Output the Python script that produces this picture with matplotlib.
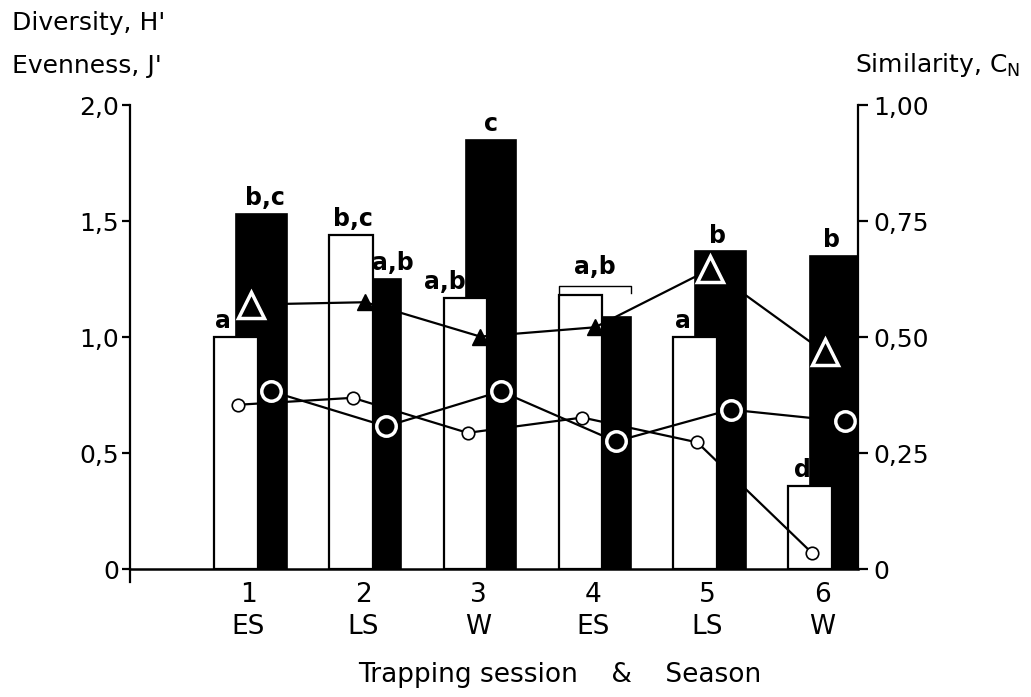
import numpy as np
import matplotlib
matplotlib.use("Agg")
import matplotlib.pyplot as plt

plt.rcParams['font.family'] = ['DejaVu Sans']

# ---- data ----
sessions = [1, 2, 3, 4, 5, 6]
seasons = ["ES", "LS", "W", "ES", "LS", "W"]
diversity_white = [1.00, 1.44, 1.17, 1.18, 1.00, 0.36]      # H', open bars
diversity_black = [1.53, 1.25, 1.85, 1.085, 1.37, 1.35]     # H', solid bars
evenness_white = [0.708, 0.738, 0.587, 0.653, 0.546, 0.069]  # J', small open circles
evenness_black = [0.766, 0.615, 0.766, 0.550, 0.687, 0.636]  # J', large circles
similarity = [0.570, 0.575, 0.501, 0.521, 0.646, 0.467]     # C_N, triangles (right axis)
letters_white = ["a", "b,c", "a,b", "", "a", "d"]
letters_black = ["b,c", "a,b", "c", "", "b", "b"]
letters_joint = ["", "", "", "a,b", "", ""]
left_ticks = [0, 0.5, 1.0, 1.5, 2.0]
left_ticklabels = ["0", "0,5", "1,0", "1,5", "2,0"]
right_ticks = [0, 0.25, 0.50, 0.75, 1.00]
right_ticklabels = ["0", "0,25", "0,50", "0,75", "1,00"]

# ---- styles ----
FS = 18
FS_X = 19
FS_L = 17
W_OFF, W_W = -0.108, 0.38
B_OFF, B_W = 0.113, 0.44
EW_OFF = -0.09
EB_OFF = 0.20
TRI_OFF = 0.02
white_dx = [-0.11, 0.02, -0.18, 0, -0.11, -0.07]
black_dx = [0.03, 0.15, 0.0, 0, -0.03, -0.03]

x = np.array(sessions, dtype=float)

fig = plt.figure(figsize=(10.31, 6.97), dpi=100)
ax = fig.add_axes([0.1261, 0.1836, 0.7061, 0.6657])
ax.set_xlim(-0.03, 6.31)
ax.set_ylim(0, 2.0)

ax.bar(x + B_OFF, diversity_black, width=B_W, color='black', edgecolor='black',
       linewidth=1.2, zorder=2)
ax.bar(x + W_OFF, diversity_white, width=W_W, facecolor='white', edgecolor='black',
       linewidth=1.6, zorder=3)

# evenness lines
ax.plot(x + EW_OFF, evenness_white, '-', color='black', lw=1.6, zorder=4,
        marker='o', ms=9, mfc='white', mec='black', mew=1.2)
ax.plot(x + EB_OFF, evenness_black, '-', color='black', lw=1.6, zorder=4)
ax.plot(x + EB_OFF, evenness_black, 'o', ms=14, mfc='black', mec='white', mew=2.5, zorder=6)

# letters above bars
for i in range(len(x)):
    if letters_white[i]:
        ax.text(x[i] + W_OFF + white_dx[i], diversity_white[i] + 0.037, letters_white[i],
                ha='center', va='baseline', fontsize=FS_L, fontweight='bold', zorder=7)
    if letters_black[i]:
        ax.text(x[i] + B_OFF + black_dx[i], diversity_black[i] + 0.037, letters_black[i],
                ha='center', va='baseline', fontsize=FS_L, fontweight='bold', zorder=7)
    if letters_joint[i]:
        top = max(diversity_white[i], diversity_black[i])
        x0 = x[i] + W_OFF - W_W / 2
        x1 = x[i] + B_OFF + B_W / 2
        yb = top + 0.04
        ax.plot([x0, x0, x1, x1], [yb - 0.03, yb, yb, yb - 0.03], color='black', lw=1.0, zorder=7)
        ax.text((x0 + x1) / 2, yb + 0.05, letters_joint[i], ha='center', va='baseline',
                fontsize=FS_L, fontweight='bold', zorder=7)

# axes styling
for s in ['top', 'right']:
    ax.spines[s].set_visible(False)
ax.spines['left'].set_linewidth(1.6)
ax.spines['bottom'].set_linewidth(1.8)
ax.set_yticks(left_ticks)
ax.set_yticklabels(left_ticklabels, fontsize=FS)
ax.tick_params(axis='y', direction='out', length=6, width=1.6, pad=2)
ax.set_xticks(x)
ax.set_xticklabels([f"{s}\n{n}" for s, n in zip(sessions, seasons)], fontsize=FS_X,
                   linespacing=1.3)
ax.tick_params(axis='x', length=0, pad=9)
ax.plot([0, 0], [0, -0.055], transform=ax.get_yaxis_transform(), color='black',
        lw=1.6, clip_on=False)

# similarity on the right axis
ax2 = ax.twinx()
ax2.set_ylim(0, 1.0)
ax2.plot(x + TRI_OFF, similarity, '-', color='black', lw=1.6, zorder=4)
sim = np.array(similarity)
on_dark = sim * 2 > np.array(diversity_white)
ax2.plot(x[~on_dark] + TRI_OFF, sim[~on_dark], '^', ms=11, color='black', zorder=5)
ax2.plot(x[on_dark] + TRI_OFF, sim[on_dark], '^', ms=19, mfc='black', mec='white', mew=2.5, zorder=6)
for s in ['top', 'left', 'bottom']:
    ax2.spines[s].set_visible(False)
ax2.spines['right'].set_linewidth(1.6)
ax2.set_yticks(right_ticks)
ax2.set_yticklabels(right_ticklabels, fontsize=FS)
ax2.tick_params(axis='y', direction='out', length=7, width=1.6, pad=4)

# titles / labels
fig.text(12 / 1031, 1 - 30 / 697, "Diversity, H'", fontsize=FS, va='baseline', ha='left')
fig.text(12 / 1031, 1 - 73 / 697, "Evenness, J'", fontsize=FS, va='baseline', ha='left')
fig.text(855 / 1031, 1 - 72 / 697, r"Similarity, C$_\mathregular{N}$", fontsize=FS,
         va='baseline', ha='left')
fig.text(560 / 1031, 1 - 682 / 697, "Trapping session    &    Season", fontsize=19,
         va='baseline', ha='center')

fig.savefig("out.png", dpi=100)
